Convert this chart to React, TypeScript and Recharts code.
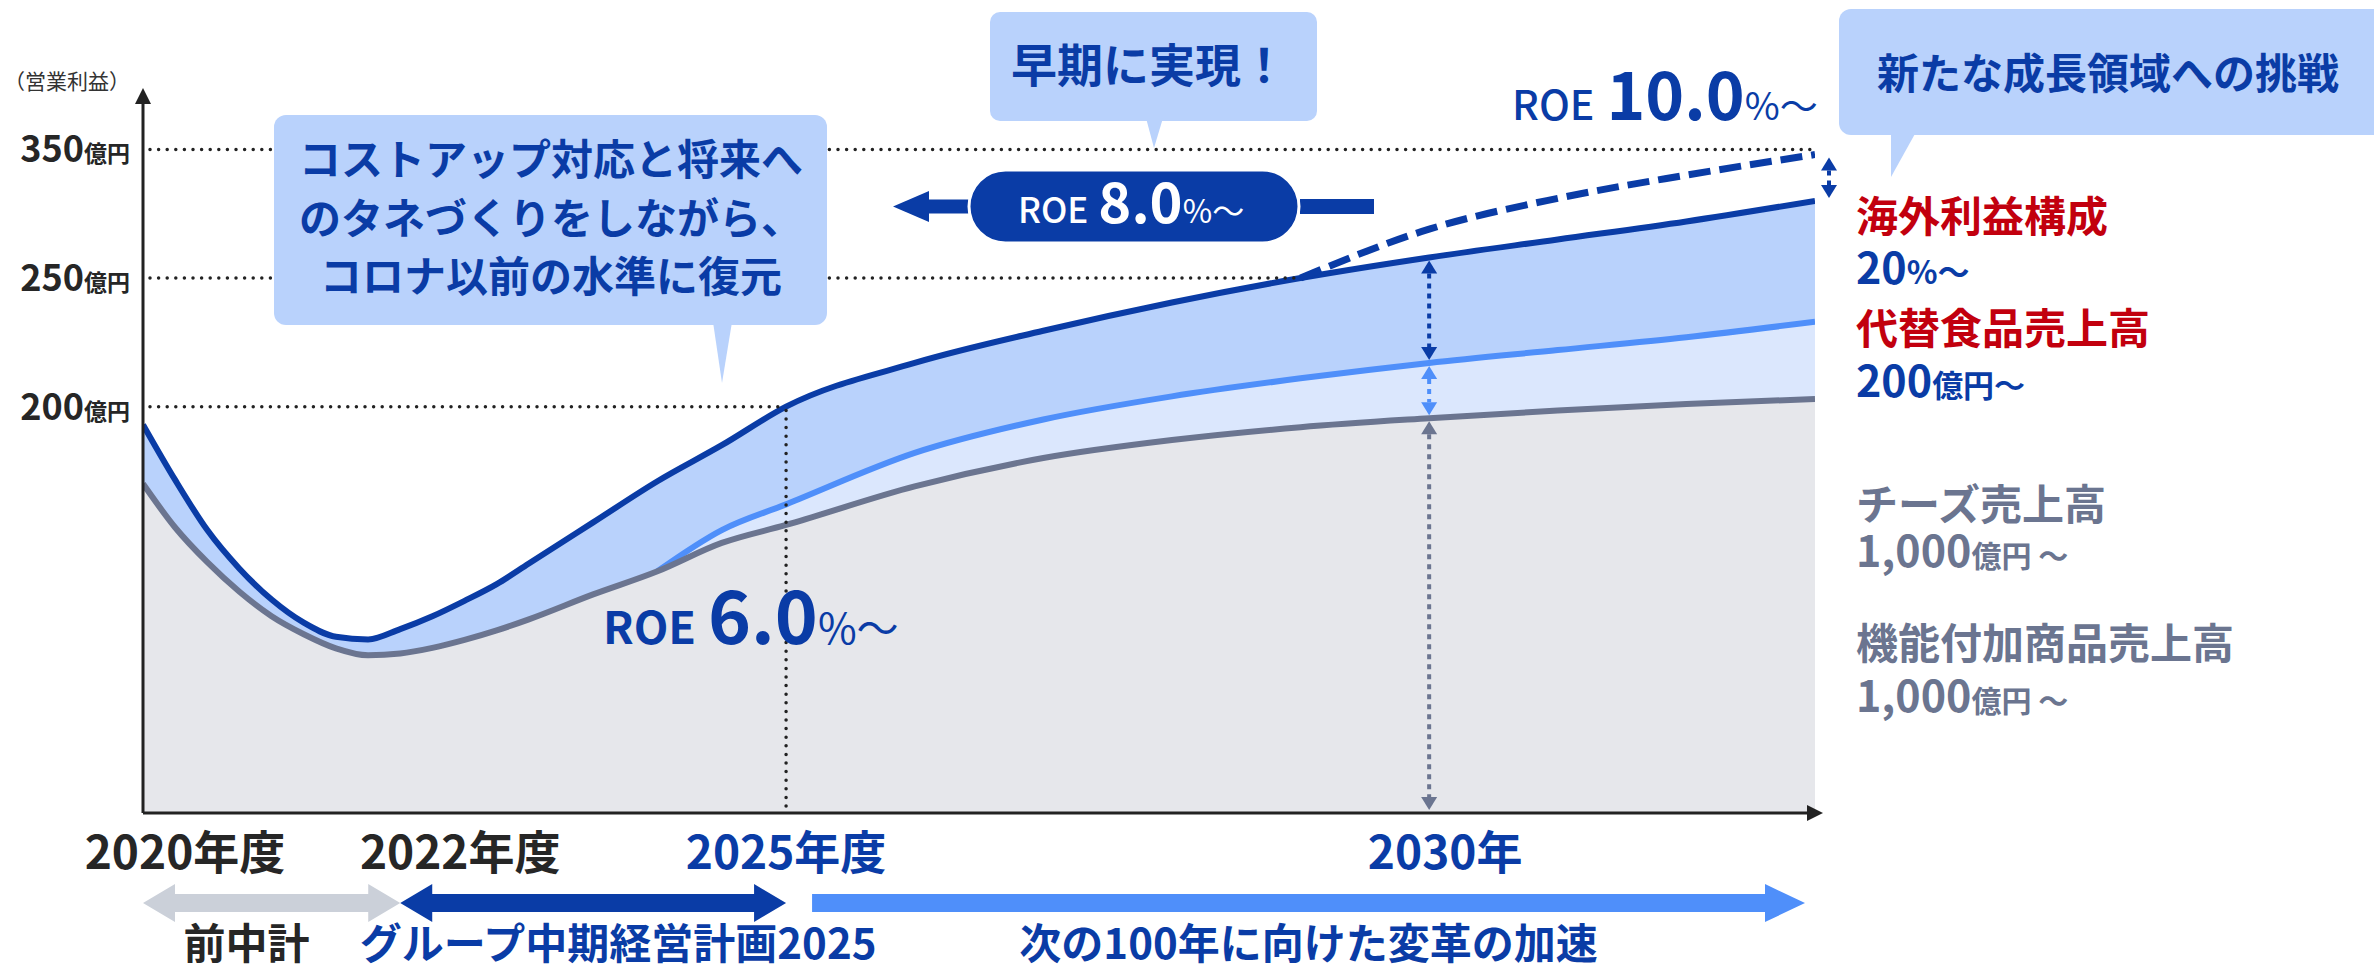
import React from 'react';
import {
  ComposedChart,
  Area,
  Line,
  XAxis,
  YAxis,
  ReferenceLine,
  ReferenceDot,
  ReferenceArea,
} from 'recharts';

const FONT = "'Noto Sans CJK JP', 'Noto Sans', sans-serif";
const NAVY = '#0a3ca6';
const SKY = '#4f8ffa';
const SLATE = '#6b7590';
const INK = '#262626';
const RED = '#c2000e';
const BAND = '#b9d2fc';
const BAND_LIGHT = '#dbe7fd';
const BASE_FILL = '#e6e7eb';
const PREV_PLAN = '#cbd0d9';

// fiscal years sampled along the curves (denser through the covid dip)
const years = [
  2020, 2020.25, 2020.5, 2020.75, 2021, 2021.25, 2021.5, 2021.75, 2022, 2022.25, 2022.5, 2022.75, 2023,
  2023.5, 2024, 2024.5, 2025, 2026, 2027, 2028, 2029, 2030, 2031, 2032, 2033,
];
// operating profit (dark line)
const profit = [
  193, 171.5, 152, 137, 125, 116, 110.5, 109.5, 113.5, 118.5, 124.5, 131, 139,
  155, 171, 185, 200, 217, 229.5, 240.5, 250, 258, 265, 272, 280,
];
// new growth areas (mid blue), starts on the base line in 2024
const growth = [
  null, null, null, null, null, null, null, null, null, null, null, null, null,
  null, 136, 152, 162, 182, 195, 204, 211, 217, 222, 227, 233,
];
// existing business base (gray)
const core = [
  170, 153, 139.5, 128, 118.5, 111.5, 106, 103.3, 104, 106.2, 109.3, 113, 117.3,
  127, 136, 147, 154, 169, 180, 187, 192, 195.5, 198.5, 201, 203,
];
// stretch target (dashed)
const stretch = [
  null, null, null, null, null, null, null, null, null, null, null, null, null,
  null, null, null, null, null, null, null, 250, 269, 281, 290, 298,
];

// the original's axis is compressed above 250: its top gridline reads 350
const yTicks = [200, 250, 300];
const yTickLabels = ['200', '250', '350'];

const xTicks = [2020, 2022, 2025, 2030];
const xTickLabels = ['2020年度', '2022年度', '2025年度', '2030年'];

const periodFrom = [2020, 2022, 2025];
const periodTo = [2022, 2025, 2033];
const periodLabels = ['前中計', 'グループ中期経営計画2025', '次の100年に向けた変革の加速'];

const rows = years.map((year, i) => ({
  year,
  profit: profit[i],
  growth: growth[i],
  core: core[i],
  stretch: stretch[i],
}));

const Y_MIN = 42;
const Y_MAX = 320;
const X_MIN = years[0];
const X_MAX = years[years.length - 1];
const last = years.length - 1;
const i2030 = years.indexOf(2030);
const stretchStart = years[stretch.findIndex((v) => v != null)];

const dotted = {
  stroke: '#222',
  strokeWidth: 3.5,
  strokeDasharray: '0 8.6',
  strokeLinecap: 'round' as const,
  strokeDashoffset: -7,
};

const YTick = (props: any) => {
  const { x, y, payload } = props;
  const i = yTicks.indexOf(payload.value);
  return (
    <text x={x - 13} y={y + 13} textAnchor="end" fill={INK} fontFamily={FONT} fontWeight={700}>
      <tspan fontSize={36}>{yTickLabels[i]}</tspan>
      <tspan fontSize={23}>億円</tspan>
    </text>
  );
};

// labels sit a little right of their year, as in the original
const tickNudge = [42, 60, 0, 16];

const XTick = (props: any) => {
  const { x, y, payload } = props;
  const i = xTicks.indexOf(payload.value);
  return (
    <text
      x={x + tickNudge[i]}
      y={y + 56}
      textAnchor="middle"
      fontSize={46}
      fontWeight={700}
      fill={i >= 2 ? NAVY : INK}
      fontFamily={FONT}
    >
      {xTickLabels[i]}
    </text>
  );
};

const labelNudge = [-25, 25, 0];

const PeriodArrow = (props: any) => {
  const { x, y, width, height, idx } = props;
  const cy = y + height + 90;
  const single = idx === 2;
  const left = single ? x + 26 : x;
  const right = single ? x + width - 10 : x + width;
  const s = 9;
  const h = 19;
  const hl = single ? 40 : 32;
  const color = idx === 0 ? PREV_PLAN : idx === 1 ? NAVY : SKY;
  const d = single
    ? `M${left},${cy - s} L${right - hl},${cy - s} L${right - hl},${cy - h} L${right},${cy} L${right - hl},${cy + h} L${right - hl},${cy + s} L${left},${cy + s} Z`
    : `M${left},${cy} L${left + hl},${cy - h} L${left + hl},${cy - s} L${right - hl},${cy - s} L${right - hl},${cy - h} L${right},${cy} L${right - hl},${cy + h} L${right - hl},${cy + s} L${left + hl},${cy + s} L${left + hl},${cy + h} Z`;
  return (
    <g>
      <path d={d} fill={color} />
      <text
        x={(left + right) / 2 + labelNudge[idx]}
        y={y + height + 146}
        textAnchor="middle"
        fontSize={42}
        fontWeight={700}
        fill={idx === 0 ? INK : NAVY}
        fontFamily={FONT}
      >
        {periodLabels[idx]}
      </text>
    </g>
  );
};

const DotArrow = (props: any) => {
  const { x1, y1, y2, color, dx = 0, inset = 3 } = props;
  const x = x1 + dx;
  const top = Math.min(y1, y2) + inset;
  const bottom = Math.max(y1, y2) - inset;
  const h = 13;
  const w = 8;
  return (
    <g>
      <line x1={x} y1={top + h} x2={x} y2={bottom - h} stroke={color} strokeWidth={4} strokeDasharray="5 5" />
      <path d={`M${x},${top} L${x - w},${top + h} L${x + w},${top + h} Z`} fill={color} />
      <path d={`M${x},${bottom} L${x - w},${bottom - h} L${x + w},${bottom - h} Z`} fill={color} />
    </g>
  );
};

const Annotations = () => (
  <svg
    width={2374}
    height={973}
    style={{ position: 'absolute', left: 0, top: 0, pointerEvents: 'none' }}
    fontFamily={FONT}
  >
    <text x={4} y={80} fontSize={21} fill="#333" dominantBaseline="central">（営業利益）</text>

    {/* speech bubbles */}
    <rect x={274} y={115} width={553} height={210} rx={12} fill={BAND} />
    <polygon points="713,322 732,322 722,383" fill={BAND} />
    <g fontSize={42} fontWeight={700} fill={NAVY} textAnchor="middle" dominantBaseline="central">
      <text x={551} y={156}>コストアップ対応と将来へ</text>
      <text x={551} y={215}>のタネづくりをしながら、</text>
      <text x={551} y={273}>コロナ以前の水準に復元</text>
    </g>

    <rect x={990} y={12} width={327} height={109} rx={10} fill={BAND} />
    <polygon points="1146,118 1163,118 1154,148" fill={BAND} />
    <text x={1149} y={62} fontSize={46} fontWeight={700} fill={NAVY} textAnchor="middle" dominantBaseline="central">
      早期に実現！
    </text>

    <rect x={1839} y={9} width={560} height={126} rx={12} fill={BAND} />
    <polygon points="1891,132 1916,132 1891,177" fill={BAND} />
    <text x={1877} y={70} fontSize={42} fontWeight={700} fill={NAVY} dominantBaseline="central">
      新たな成長領域への挑戦
    </text>

    {/* ROE 8.0% pill */}
    <polygon points="893,206.5 929,191 929,222" fill={NAVY} />
    <rect x={927} y={199.5} width={44} height={14} fill={NAVY} />
    <rect x={1300} y={199} width={74} height={15} fill={NAVY} />
    <rect x={969} y={170} width={330} height={73} rx={36.5} fill={NAVY} stroke="#fff" strokeWidth={3} />
    <text x={1018} y={223} fill="#fff">
      <tspan fontSize={35} fontWeight={500}>ROE</tspan>
      <tspan fontSize={56} fontWeight={700} dx={10}>8.0</tspan>
      <tspan fontSize={32}>%</tspan>
      <tspan fontSize={32}>〜</tspan>
    </text>

    <text x={1512} y={120} fill={NAVY}>
      <tspan fontSize={41} fontWeight={500}>ROE</tspan>
      <tspan fontSize={66} fontWeight={700} dx={12}>10.0</tspan>
      <tspan fontSize={38}>%</tspan>
      <tspan fontSize={38}>〜</tspan>
    </text>

    <text x={603} y={644} fill={NAVY}>
      <tspan fontSize={45} fontWeight={700}>ROE</tspan>
      <tspan fontSize={73} fontWeight={700} dx={12}>6.0</tspan>
      <tspan fontSize={42}>%</tspan>
      <tspan fontSize={42}>〜</tspan>
    </text>

    {/* right-hand labels */}
    <g fontWeight={700}>
      <text x={1856} y={213} fontSize={42} fill={RED} dominantBaseline="central">海外利益構成</text>
      <text x={1856} y={284} fill={NAVY}>
        <tspan fontSize={43}>20</tspan>
        <tspan fontSize={32}>%〜</tspan>
      </text>
      <text x={1856} y={325} fontSize={42} fill={RED} dominantBaseline="central">代替食品売上高</text>
      <text x={1856} y={397} fill={NAVY}>
        <tspan fontSize={43}>200</tspan>
        <tspan fontSize={31}>億円〜</tspan>
      </text>
      <text x={1856} y={501} fontSize={42} fill={SLATE} dominantBaseline="central">チーズ売上高</text>
      <text x={1856} y={567} fill={SLATE}>
        <tspan fontSize={43}>1,000</tspan>
        <tspan fontSize={30}>億円 〜</tspan>
      </text>
      <text x={1856} y={640} fontSize={42} fill={SLATE} dominantBaseline="central">機能付加商品売上高</text>
      <text x={1856} y={712} fill={SLATE}>
        <tspan fontSize={43}>1,000</tspan>
        <tspan fontSize={30}>億円 〜</tspan>
      </text>
    </g>
  </svg>
);

export default function App() {
  return (
    <div style={{ position: 'absolute', left: 0, top: 0, width: 2374, height: 973, overflow: 'hidden', background: '#fff' }}>
      <ComposedChart width={2374} height={973} data={rows} margin={{ top: 98, right: 559, bottom: 0, left: 0 }}>
        <XAxis
          dataKey="year"
          type="number"
          domain={[X_MIN, X_MAX]}
          allowDataOverflow
          ticks={xTicks}
          interval={0}
          height={160}
          tickSize={0}
          tickMargin={0}
          tickLine={false}
          axisLine={{ stroke: '#222', strokeWidth: 3 }}
          tick={<XTick />}
        />
        <YAxis
          type="number"
          domain={[Y_MIN, Y_MAX]}
          allowDataOverflow
          ticks={yTicks}
          interval={0}
          width={143}
          tickSize={0}
          tickMargin={0}
          tickLine={false}
          axisLine={{ stroke: '#222', strokeWidth: 3 }}
          tick={<YTick />}
        />

        <Area type="monotone" dataKey="profit" stroke={NAVY} strokeWidth={6} fill={BAND} fillOpacity={1} dot={false} activeDot={false} isAnimationActive={false} />
        <Area type="monotone" dataKey="growth" stroke={SKY} strokeWidth={6} fill={BAND_LIGHT} fillOpacity={1} dot={false} activeDot={false} isAnimationActive={false} />
        <Area type="monotone" dataKey="core" stroke={SLATE} strokeWidth={6} fill={BASE_FILL} fillOpacity={1} dot={false} activeDot={false} isAnimationActive={false} />
        <Line type="monotone" dataKey="stretch" stroke={NAVY} strokeWidth={7} strokeDasharray="22 9" dot={false} activeDot={false} isAnimationActive={false} />

        <ReferenceLine segment={[{ x: X_MIN, y: yTicks[2] }, { x: X_MAX, y: yTicks[2] }]} {...dotted} />
        <ReferenceLine segment={[{ x: X_MIN, y: yTicks[1] }, { x: stretchStart, y: yTicks[1] }]} {...dotted} />
        <ReferenceLine segment={[{ x: X_MIN, y: yTicks[0] }, { x: 2025, y: yTicks[0] }]} {...dotted} />
        <ReferenceLine segment={[{ x: 2025, y: Y_MIN }, { x: 2025, y: yTicks[0] }]} {...dotted} />

        <ReferenceLine
          segment={[{ x: 2030, y: profit[i2030] }, { x: 2030, y: growth[i2030] as number }]}
          shape={(p: any) => <DotArrow {...p} color={NAVY} />}
        />
        <ReferenceLine
          segment={[{ x: 2030, y: growth[i2030] as number }, { x: 2030, y: core[i2030] }]}
          shape={(p: any) => <DotArrow {...p} color={SKY} />}
        />
        <ReferenceLine
          segment={[{ x: 2030, y: core[i2030] }, { x: 2030, y: Y_MIN }]}
          shape={(p: any) => <DotArrow {...p} color={SLATE} />}
        />
        <ReferenceLine
          segment={[{ x: X_MAX, y: stretch[last] as number }, { x: X_MAX, y: profit[last] }]}
          ifOverflow="visible"
          shape={(p: any) => <DotArrow {...p} color={NAVY} dx={14} />}
        />

        {periodFrom.map((from, i) => (
          <ReferenceArea
            key={from}
            x1={from}
            x2={periodTo[i]}
            ifOverflow="visible"
            shape={(p: any) => <PeriodArrow {...p} idx={i} />}
          />
        ))}

        <ReferenceDot
          x={X_MIN}
          y={Y_MAX}
          ifOverflow="visible"
          shape={(p: any) => <path d={`M${p.cx},${p.cy - 10} L${p.cx - 8},${p.cy + 6} L${p.cx + 8},${p.cy + 6} Z`} fill="#222" />}
        />
        <ReferenceDot
          x={X_MAX}
          y={Y_MIN}
          ifOverflow="visible"
          shape={(p: any) => <path d={`M${p.cx + 8},${p.cy} L${p.cx - 8},${p.cy - 8} L${p.cx - 8},${p.cy + 8} Z`} fill="#222" />}
        />
      </ComposedChart>
      <Annotations />
    </div>
  );
}
